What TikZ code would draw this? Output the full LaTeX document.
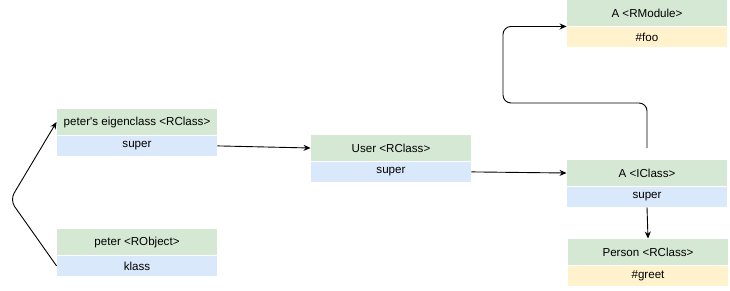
\documentclass[tikz,border=0pt]{standalone}
\usepackage{fontspec}
\setmainfont{Liberation Sans}[Ligatures=TeXOff]
\usepackage{tikz}
\usetikzlibrary{positioning,arrows.meta}

\definecolor{headgreen}{HTML}{D5E8D4}
\definecolor{fieldblue}{HTML}{DAE8FC}
\definecolor{methodyellow}{HTML}{FFF2CC}

\tikzset{
  head/.style={fill=headgreen,minimum width=160pt,minimum height=26pt,
    inner sep=0pt,font=\fontsize{11.6}{13}\selectfont},
  field/.style={head,fill=fieldblue,minimum height=20pt},
  method/.style={head,fill=methodyellow,minimum height=20pt},
}

\begin{document}
\begin{tikzpicture}[>={Stealth[length=7pt,width=6pt]},x=1pt,y=-1pt,line width=0.9pt,node distance=0pt]
  \useasboundingbox (0,0) rectangle (730,290);
  \node[head] (eig) at (137,122) {peter's eigenclass <RClass>};
  \node[field,below=of eig] (eigsuper) {super};
  \node[head] (peter) at (137,242) {peter <RObject>};
  \node[field,below=of peter] (klass) {klass};
  \node[head] (user) at (391,148) {User <RClass>};
  \node[field,below=of user] (usersuper) {super};
  \node[head] (rmod) at (647,13) {A <RModule>};
  \node[method,below=of rmod] (foo) {\#foo};
  \node[head] (icls) at (647,173) {A <IClass>};
  \node[field,below=of icls] (iclssuper) {super};
  \node[head] (person) at (648,252) {Person <RClass>};
  \node[method,below=of person] (greet) {\#greet};

  \coordinate (bend) at (10,200);
  \coordinate (lift) at (647,148);
  \coordinate (turn) at (503,103);

  \draw[->,rounded corners=8pt] (klass.west) -- (bend) -- (eig.west);
  \path[->]
    (eigsuper.east) edge (user.west)
    (usersuper.east) edge (icls.west)
    (iclssuper.south) edge (person.north);
  \draw[->,rounded corners=8pt] (lift) |- (turn) |- (rmod.south west);
\end{tikzpicture}
\end{document}
